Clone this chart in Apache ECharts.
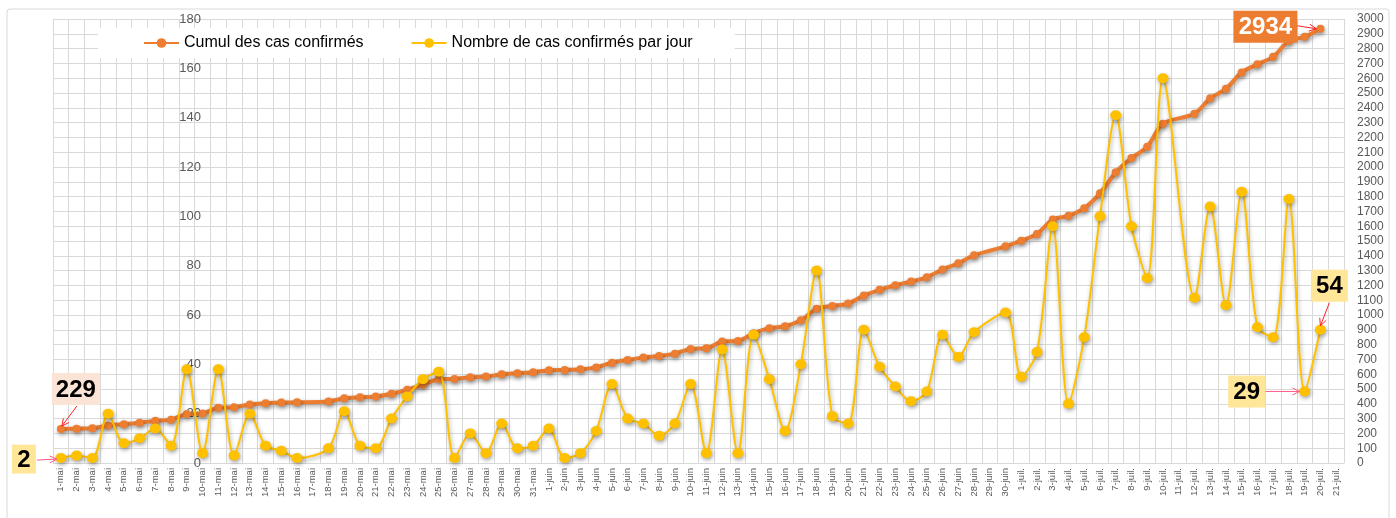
<!DOCTYPE html>
<html>
<head>
<meta charset="utf-8">
<script src="https://cdn.jsdelivr.net/npm/echarts@6/dist/echarts.min.js"></script>
<style>
html,body{margin:0;padding:0;background:#fff;}
#c{width:1396px;height:518px;}
</style>
</head>
<body>
<div id="c"></div>
<script>
const categories = [
 '1-mai','2-mai','3-mai','4-mai','5-mai','6-mai','7-mai','8-mai','9-mai','10-mai',
 '11-mai','12-mai','13-mai','14-mai','15-mai','16-mai','17-mai','18-mai','19-mai','20-mai',
 '21-mai','22-mai','23-mai','24-mai','25-mai','26-mai','27-mai','28-mai','29-mai','30-mai','31-mai',
 '1-juin','2-juin','3-juin','4-juin','5-juin','6-juin','7-juin','8-juin','9-juin','10-juin',
 '11-juin','12-juin','13-juin','14-juin','15-juin','16-juin','17-juin','18-juin','19-juin','20-juin',
 '21-juin','22-juin','23-juin','24-juin','25-juin','26-juin','27-juin','28-juin','29-juin','30-juin',
 '1-juil.','2-juil.','3-juil.','4-juil.','5-juil.','6-juil.','7-juil.','8-juil.','9-juil.','10-juil.',
 '11-juil.','12-juil.','13-juil.','14-juil.','15-juil.','16-juil.','17-juil.','18-juil.','19-juil.','20-juil.','21-juil.'
];
const cumulValues = [
 229,232,234,254,262,272,286,293,331,335,
 373,376,396,403,408,410,null,416,437,444,
 450,468,495,529,566,568,580,584,600,606,613,
 627,629,633,646,678,696,712,723,739,771,
 775,821,825,877,911,924,964,1042,1061,1077,
 1131,1170,1201,1226,1255,1307,1350,1403,null,1464,
 1502,1548,1646,1670,1722,1822,1964,2060,2136,2293,
 null,2360,2464,2528,2639,2694,2745,2852,2880,2934,null
];
const dailyValues = [
 2,3,2,20,8,10,14,7,38,4,
 38,3,20,7,5,2,null,6,21,7,
 6,18,27,34,37,2,12,4,16,6,7,
 14,2,4,13,32,18,16,11,16,32,
 4,46,4,52,34,13,40,78,19,16,
 54,39,31,25,29,52,43,53,null,61,
 35,45,96,24,51,100,141,96,75,156,
 null,67,104,64,110,55,51,107,29,54,null
];
const leftTicks = {min:0, max:180, interval:20};
const rightTicks = {min:0, max:3000, interval:100};
const seriesNames = ['Cumul des cas confirmés','Nombre de cas confirmés par jour'];

const FONT = 'Liberation Sans, Arial, sans-serif';
const chart = echarts.init(document.getElementById('c'), null, {renderer:'canvas'});
const shadow = {shadowBlur:4, shadowColor:'rgba(0,0,0,0.35)', shadowOffsetY:2, shadowOffsetX:1};

chart.setOption({
  backgroundColor:'#fff',
  animation:false,
  textStyle:{fontFamily:FONT},
  grid:{left:53, right:52, top:19, bottom:55, containLabel:false},
  legend:{
    left:98, top:28,
    backgroundColor:'#fff',
    padding:[7,42,7,45],
    itemGap:47, itemWidth:35, itemHeight:12,
    textStyle:{fontSize:16, color:'#000', fontFamily:FONT},
    data:seriesNames
  },
  xAxis:{
    type:'category', data:categories, boundaryGap:true,
    axisLine:{show:true, lineStyle:{color:'#d9d9d9'}},
    axisTick:{show:false},
    axisLabel:{rotate:90, fontSize:9.5, color:'#595959', interval:0, margin:5, fontFamily:FONT},
    splitLine:{show:true, interval:0, lineStyle:{color:'#d9d9d9', width:1}}
  },
  yAxis:[
    {type:'value', position:'left', offset:-148, min:leftTicks.min, max:leftTicks.max, interval:leftTicks.interval,
     axisLine:{show:false}, axisTick:{show:false}, splitLine:{show:false},
     axisLabel:{color:'#595959', fontSize:13, margin:0, fontFamily:FONT, formatter:v => String(v)}},
    {type:'value', position:'right', min:rightTicks.min, max:rightTicks.max, interval:rightTicks.interval,
     axisLine:{show:false}, axisTick:{show:false},
     splitLine:{show:true, lineStyle:{color:'#d9d9d9', width:1}},
     axisLabel:{color:'#595959', fontSize:12, margin:13, fontFamily:FONT, formatter:v => String(v)}}
  ],
  series:[
    {name:seriesNames[0], type:'line', yAxisIndex:1, data:cumulValues, connectNulls:true, smooth:0.3,
     symbol:'circle', symbolSize:8, showAllSymbol:true,
     lineStyle:Object.assign({color:'#ED7D31', width:4}, shadow),
     itemStyle:Object.assign({color:'#ED7D31'}, shadow), z:2},
    {name:seriesNames[1], type:'line', yAxisIndex:0, data:dailyValues, connectNulls:true, smooth:0.3,
     symbol:'circle', symbolSize:[11,10], showAllSymbol:true,
     lineStyle:Object.assign({color:'#FFC000', width:2}, shadow),
     itemStyle:Object.assign({color:'#FFC000'}, shadow), z:3}
  ]
});

// annotations anchored to data points
const notes = [
  {axis:1, idx:0, arr:cumulValues, bg:'#FBE3D6', fg:'#000', w:48, h:32, cx:15, cy:-40, a:[16,-23], b:[1,-3], ac:'#FF2020'},
  {axis:0, idx:0, arr:dailyValues, bg:'#FFE699', fg:'#000', w:24, h:29, cx:-37, cy:1, a:[-24,2], b:[-4,1], ac:'#FF5B8A'},
  {axis:1, idx:80, arr:cumulValues, bg:'#ED7D31', fg:'#fff', w:64, h:32, cx:-55, cy:-2, a:[-23,-3], b:[-4,0], ac:'#FF2020'},
  {axis:0, idx:80, arr:dailyValues, bg:'#FFE699', fg:'#000', w:37, h:32, cx:9, cy:-44, a:[9,-27], b:[0,-4], ac:'#FF2020'},
  {axis:0, idx:79, arr:dailyValues, bg:'#FFE699', fg:'#000', w:37, h:32, cx:-58, cy:0, a:[-39,0], b:[-5,0], ac:'#FF5B8A'}
];
const g = [];
g.push({type:'rect', shape:{x:7, y:9, width:1382, height:520, r:3}, style:{fill:null, stroke:'#d9d9d9', lineWidth:1}, z:0, silent:true});
notes.forEach(n => {
  const p = chart.convertToPixel({xAxisIndex:0, yAxisIndex:n.axis}, [n.idx, n.arr[n.idx]]);
  g.push({type:'rect', shape:{x:p[0]+n.cx-n.w/2, y:p[1]+n.cy-n.h/2, width:n.w, height:n.h}, style:{fill:n.bg}, z:100});
  g.push({type:'text', x:p[0]+n.cx, y:p[1]+n.cy+1, style:{text:String(n.arr[n.idx]), fill:n.fg, font:'bold 24px '+FONT, textAlign:'center', textVerticalAlign:'middle'}, z:101});
  const ax = p[0]+n.a[0], ay = p[1]+n.a[1], bx = p[0]+n.b[0], by = p[1]+n.b[1];
  const ang = Math.atan2(by-ay, bx-ax), L = 8, sp = 0.45;
  g.push({type:'line', shape:{x1:ax, y1:ay, x2:bx, y2:by}, style:{stroke:n.ac, lineWidth:1}, z:102});
  g.push({type:'polyline', shape:{points:[
    [bx - L*Math.cos(ang-sp), by - L*Math.sin(ang-sp)], [bx, by],
    [bx - L*Math.cos(ang+sp), by - L*Math.sin(ang+sp)]]}, style:{stroke:n.ac, lineWidth:1, fill:null}, z:102});
});
chart.setOption({graphic:g});
</script>
</body>
</html>
